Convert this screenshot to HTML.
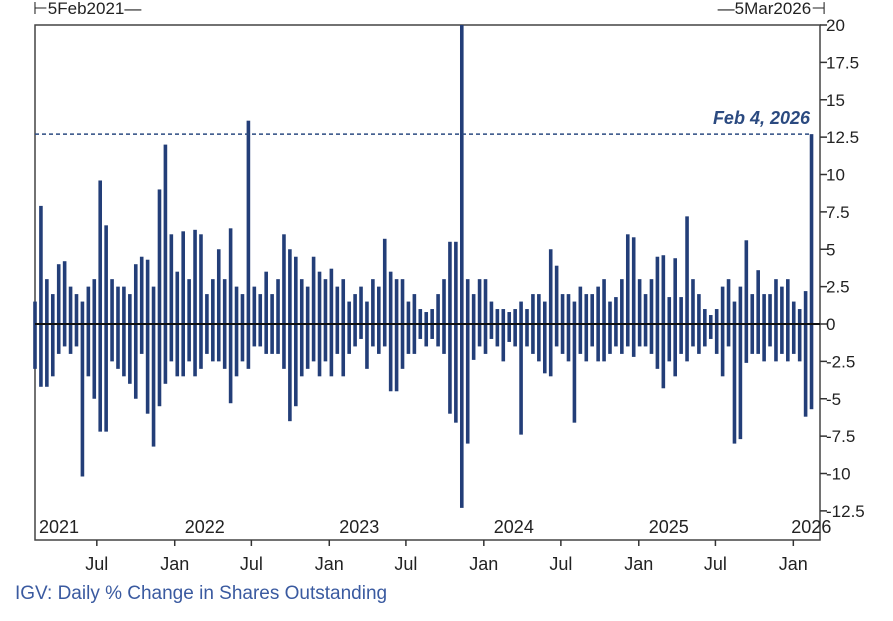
<!DOCTYPE html>
<html><head><meta charset="utf-8"><style>
body{margin:0;background:#fff;}
svg{display:block;font-family:"Liberation Sans",sans-serif;}
</style></head><body>
<svg id="chart" width="893" height="621">
<rect x="35" y="25" width="785" height="515" fill="#fff" stroke="#444" stroke-width="1.5"/>
<g id="bars"></g>
<g id="axes"></g>
<text x="15" y="599" font-size="19" fill="#3a5aa0">IGV: Daily % Change in Shares Outstanding</text>
<text x="33" y="14" font-size="17" fill="#222">⊢5Feb2021—</text>
<text x="826" y="14" font-size="17" fill="#222" text-anchor="end">—5Mar2026⊣</text>
</svg>
<script>
const categoriesStartDays = 0; // index i = Feb 5 2021 + 14*i days
const posVals = [1.5,7.9,3,2,4,4.2,2.5,2,1.5,2.5,3,9.6,6.6,3,2.5,2.5,2,4,4.5,4.3,2.5,9,12,6,3.5,6.2,3,6.3,6,2,3,5,3,6.4,2.5,2,13.6,2.5,2,3.5,2,3,6,5,4.5,3,2.5,4.5,3.5,3,3.7,2.5,3,1.5,2,2.5,1.5,3,2.5,5.7,3.5,3,3,1.5,2,1,0.8,1,2,3,5.5,5.5,20,3,2,3,3,1.5,1,1,0.8,1,1.5,1,2,2,1.5,5,3.9,2,2,1.5,2.5,2,2,2.5,3,1.5,1.8,3,6,5.8,3,2,3,4.5,4.6,1.8,4.4,1.8,7.2,3,2,1,0.6,1,2.5,3,1.5,2.5,5.6,2,3.6,2,2,3,2.5,3,1.5,1,2.2,12.7];
const negVals = [-3,-4.2,-4.2,-3.5,-2,-1.5,-2,-1.5,-10.2,-3.5,-5,-7.2,-7.2,-2.5,-3,-3.5,-4,-5,-2,-6,-8.2,-5.5,-4,-2.5,-3.5,-3.5,-2.5,-3.5,-3,-2,-2.5,-2.5,-3,-5.3,-3.5,-2.5,-3,-1.5,-1.5,-2,-2,-2,-3,-6.5,-5.5,-3.5,-3,-2.5,-3.5,-2.5,-3.5,-2,-3.5,-2,-1.5,-1,-3,-1.5,-2,-1.5,-4.5,-4.5,-3,-2,-2,-1,-1.5,-1,-1.5,-2,-6,-6.6,-12.3,-8,-2.4,-1.5,-2,-1,-1.5,-2.5,-1.2,-1.5,-7.4,-1.5,-2,-2.5,-3.3,-3.5,-1.5,-2,-2.5,-6.6,-2,-2.5,-1.5,-2.5,-2.5,-2,-1.5,-2,-1.5,-2.2,-1.5,-1.5,-2,-3,-4.3,-2.5,-3.5,-2,-2.5,-1.5,-2,-1.5,-1,-2,-3.5,-1.5,-8,-7.7,-2.6,-2,-2,-2.5,-1.5,-2.5,-2,-2.5,-2,-2.5,-6.2,-5.7];
const yTicks = [20,17.5,15,12.5,10,7.5,5,2.5,0,-2.5,-5,-7.5,-10,-12.5];
const yearLabels = ["2021","2022","2023","2024","2025","2026"];
const yearDays = [0,330,695,1060,1426,1791];
const monthLabels = ["Jul","Jan","Jul","Jan","Jul","Jan","Jul","Jan","Jul","Jan"];
const monthDays = [146,330,511,695,876,1060,1242,1426,1607,1791];
const annotValue = 12.7;
const annotLabel = "Feb 4, 2026";

const NS="http://www.w3.org/2000/svg";
const X0=35, X1=820, DTOT=1854;
function xs(d){return X0+d*(X1-X0)/DTOT;}
function ys(v){return 324 - v*14.95;}
function mk(tag,attrs,parent){const e=document.createElementNS(NS,tag);for(const k in attrs)e.setAttribute(k,attrs[k]);parent.appendChild(e);return e;}
const bars=document.getElementById('bars'), axes=document.getElementById('axes');
const col="#233e78";
for(let i=0;i<posVals.length;i++){
  const x=xs(categoriesStartDays+i*14);
  const w=3.6;
  const p=mk('rect',{x:x-w/2,y:ys(posVals[i]),width:w,height:ys(0)-ys(posVals[i]),fill:col},bars);
  
  
  const n=mk('rect',{x:x-w/2,y:ys(0),width:w,height:ys(negVals[i])-ys(0),fill:col},bars);
  
  
}
const z=mk('line',{x1:X0,x2:X1,y1:ys(0),y2:ys(0),stroke:"#111","stroke-width":2},axes);


const dl=mk('line',{x1:X0,x2:xs(1834),y1:ys(annotValue),y2:ys(annotValue),stroke:"#2b4a80","stroke-width":1.5,"stroke-dasharray":"4,3"},axes);


const at=mk('text',{x:810,y:ys(annotValue)-10,"text-anchor":"end","font-size":18,"font-weight":"bold","font-style":"italic",fill:"#2b4a80"},axes);
at.textContent=annotLabel;


yTicks.forEach(v=>{
  const t=mk('line',{x1:X1,x2:X1+7,y1:ys(v),y2:ys(v),stroke:"#333","stroke-width":1.5},axes);
  
  
  const l=mk('text',{x:X1+6,y:ys(v)+6,"font-size":17,fill:"#222"},axes);
  l.textContent=v;
  
  
});
yearLabels.forEach((s,i)=>{
  const x = i==0 ? X0+4 : (i==5 ? xs(yearDays[i])+18 : xs(yearDays[i])+30);
  const l=mk('text',{x:x,y:533,"font-size":18,fill:"#222","text-anchor":i==0?"start":"middle"},axes);
  l.textContent=s;
  
  
});
monthLabels.forEach((s,i)=>{
  const x=xs(monthDays[i]);
  const t=mk('line',{x1:x,x2:x,y1:540,y2:546,stroke:"#333","stroke-width":1.5},axes);
  
  
  const l=mk('text',{x:x,y:570,"font-size":18,fill:"#222","text-anchor":"middle"},axes);
  l.textContent=s;
  
  
});
</script>
</body></html>
